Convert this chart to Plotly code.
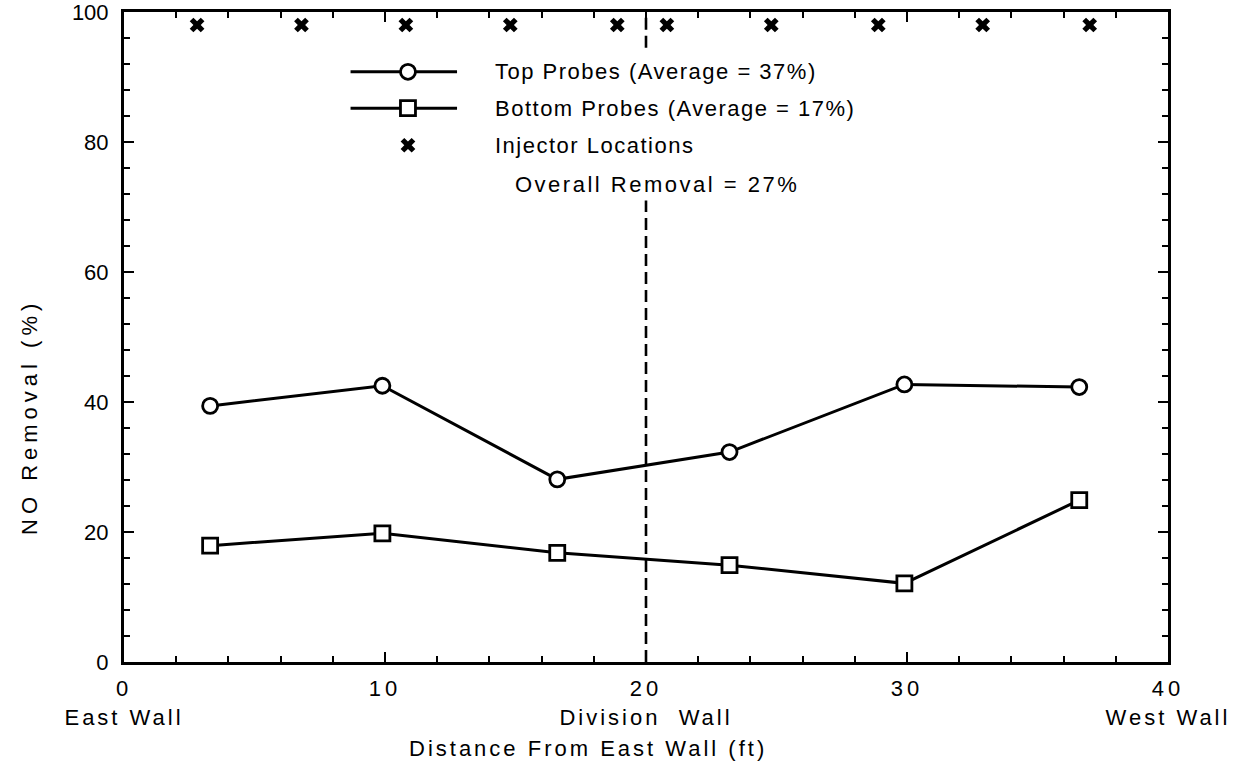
import plotly.graph_objects as go

# Probe positions across the duct (ft from east wall) and measured NO removal (%)
probe_x_ft = [3.3, 9.9, 16.6, 23.2, 29.9, 36.6]
top_removal = [39.4, 42.5, 28.1, 32.3, 42.7, 42.3]
bottom_removal = [17.9, 19.8, 16.8, 14.9, 12.1, 24.9]

# Injector positions (ft) plotted along the top of the chart
injector_x_ft = [2.8, 6.8, 10.8, 14.8, 18.9, 20.8, 24.8, 28.9, 32.9, 37.0]
injector_y = [98, 98, 98, 98, 98, 98, 98, 98, 98, 98]

division_wall_ft = 20

x_tick_vals = [0, 10, 20, 30, 40]
x_tick_numbers = ["0", "10", "20", "30", "40"]
x_tick_walls = ["East Wall", "", "Division  Wall", "", "West Wall"]
y_tick_vals = [0, 20, 40, 60, 80, 100]

legend_labels = [
    "Top Probes (Average = 37%)",
    "Bottom Probes (Average = 17%)",
    "Injector Locations",
]
overall_label = "Overall Removal = 27%"

FONT = "Liberation Sans, Arial, Helvetica, sans-serif"
INK = "black"
LW = 3
FS = 22


def spaced(text, px):
    """Wrap text in a span with extra tracking."""
    return f'<span style="letter-spacing:{px}px">{text}</span>'


x_tick_text = []
for num, wall in zip(x_tick_numbers, x_tick_walls):
    label = spaced(num, 4)
    if wall:
        label += "<br>" + spaced(wall, 3)
    x_tick_text.append(label)

fig = go.Figure()

fig.add_trace(go.Scatter(
    x=probe_x_ft, y=top_removal, mode="lines+markers",
    line=dict(color=INK, width=LW),
    marker=dict(symbol="circle", size=15, color="white", line=dict(color=INK, width=2.8)),
    showlegend=False, name=legend_labels[0],
))
fig.add_trace(go.Scatter(
    x=probe_x_ft, y=bottom_removal, mode="lines+markers",
    line=dict(color=INK, width=LW),
    marker=dict(symbol="square", size=15, color="white", line=dict(color=INK, width=2.8)),
    showlegend=False, name=legend_labels[1],
))
fig.add_trace(go.Scatter(
    x=injector_x_ft, y=injector_y, mode="markers",
    marker=dict(symbol="x", size=13, color=INK, line=dict(width=0)),
    showlegend=False, name=legend_labels[2],
))

# Legend key drawn on an overlay axis in 0..1 units of the plot area
key_rows = [0.908, 0.852, 0.795]
key_x0, key_mid, key_x1 = 0.217, 0.272, 0.319
for row, symbol, size in [(key_rows[0], "circle", 15), (key_rows[1], "square", 15)]:
    fig.add_trace(go.Scatter(
        x=[key_x0, key_x1], y=[row, row], mode="lines",
        line=dict(color=INK, width=LW),
        xaxis="x2", yaxis="y2", showlegend=False, hoverinfo="skip",
    ))
    fig.add_trace(go.Scatter(
        x=[key_mid], y=[row], mode="markers",
        marker=dict(symbol=symbol, size=size, color="white", line=dict(color=INK, width=2.8)),
        xaxis="x2", yaxis="y2", showlegend=False, hoverinfo="skip",
    ))
fig.add_trace(go.Scatter(
    x=[key_mid], y=[key_rows[2]], mode="markers",
    marker=dict(symbol="x", size=13, color=INK, line=dict(width=0)),
    xaxis="x2", yaxis="y2", showlegend=False, hoverinfo="skip",
))

text_font = dict(family=FONT, size=FS, color=INK)
annotations = []
for label, row in zip(legend_labels, key_rows):
    annotations.append(dict(
        text=spaced(label, 1.5), x=0.353, y=row, xref="paper", yref="paper",
        xanchor="left", yanchor="middle", showarrow=False, font=text_font,
    ))
annotations.append(dict(
    text=spaced(overall_label, 2.5), x=0.373, y=0.734, xref="paper", yref="paper",
    xanchor="left", yanchor="middle", showarrow=False, font=text_font,
))
annotations.append(dict(
    text=spaced("NO Removal (%)", 5), x=0, y=0.377, xref="paper", yref="paper",
    xanchor="center", yanchor="middle", xshift=-94, textangle=-90, showarrow=False,
    font=text_font,
))
annotations.append(dict(
    text=spaced("Distance From East Wall (ft)", 3), x=0.444, y=0, xref="paper", yref="paper",
    xanchor="center", yanchor="middle", yshift=-86, showarrow=False, font=text_font,
))

# Division wall marker, interrupted behind the key text
dash_style = dict(color=INK, width=2.6, dash="12px,6px")
shapes = [
    dict(type="line", xref="x", yref="y", x0=division_wall_ft, x1=division_wall_ft,
         y0=0, y1=71, line=dash_style, layer="below"),
    dict(type="line", xref="x", yref="y", x0=division_wall_ft, x1=division_wall_ft,
         y0=94.5, y1=100, line=dash_style, layer="below"),
]

axis_common = dict(
    showline=True, linecolor=INK, linewidth=3, mirror="ticks",
    ticks="inside", ticklen=10, tickwidth=2, tickcolor=INK,
    showgrid=False, zeroline=False, automargin=False,
    ticklabeloverflow="allow",
    tickfont=dict(family=FONT, size=FS, color=INK),
)

fig.update_layout(
    width=1252, height=769,
    margin=dict(l=124, r=84, t=12, b=107),
    paper_bgcolor="white", plot_bgcolor="white",
    xaxis=dict(
        range=[0, 40], tickvals=x_tick_vals, ticktext=x_tick_text,
        minor=dict(dtick=2, ticks="inside", ticklen=6, tickwidth=2, tickcolor=INK, showgrid=False),
        ticklabelstandoff=5,
        **axis_common,
    ),
    yaxis=dict(
        range=[0, 100], tickvals=y_tick_vals,
        minor=dict(dtick=4, ticks="inside", ticklen=6, tickwidth=2, tickcolor=INK, showgrid=False),
        ticklabelstandoff=8,
        **axis_common,
    ),
    xaxis2=dict(overlaying="x", range=[0, 1], visible=False, fixedrange=True),
    yaxis2=dict(overlaying="y", range=[0, 1], visible=False, fixedrange=True),
    annotations=annotations,
    shapes=shapes,
    showlegend=False,
)

fig.write_html("out.html")
